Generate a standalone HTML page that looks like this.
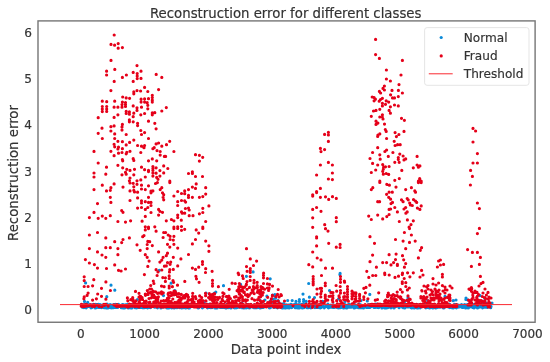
<!DOCTYPE html><html><head><meta charset="utf-8"><title>Reconstruction error for different classes</title><style>html,body{margin:0;padding:0;background:#fff}</style></head><body><svg width="550" height="362" viewBox="0 0 550 362" style="display:block"><rect width="550" height="362" fill="#fff"/><path d="M159.3 270.3h0M85.6 282.9h0M111 285.2h0M114.8 290.2h0M106.8 296.7h0M84.5 301.4h0M87.7 302.3h0M137.4 299.5h0M171.1 283.2h0M174.9 290.5h0M163.5 295.6h0M206.1 293.1h0M214.4 293.1h0M204.2 302.6h0M223.5 285.7h0M215.8 292.1h0M240.6 284.4h0M246.4 276.3h0M270.2 278.8h0M259.7 300.1h0M270.2 301h0M241.9 303h0M272.5 295h0M253.1 271.9h0M308.7 283.5h0M303 294.1h0M309.4 297.2h0M314.5 297.5h0M329.5 290.5h0M287.7 300.5h0M292.2 300.5h0M296 301.4h0M299.4 299.5h0M299.4 301.4h0M303.6 299.5h0M303.6 301.4h0M306.2 301.4h0M275.6 298.2h0M278.8 302.3h0M283.9 303.5h0M322.7 301.4h0M338.6 298.8h0M339.9 274.6h0M340.1 273.4h0M369.8 294.4h0M367.3 301h0M360.9 300.7h0M408 297.9h0M404.8 301.4h0M345 301.4h0M445 296.4h0M456 300h0M466 298h0M468 300h0M480 295.6h0M485 299h0M486 303h0M492 303h0M427.7 300.7h0M453.2 300.7h0M465.9 299.5h0M214.3 304.8h0M348.4 304.5h0M301.2 305.6h0M105.3 306.1h0M96.9 305.8h0M110.1 304.5h0M255.6 307.3h0M132.3 305h0M338.7 307.8h0M318.1 305.7h0M481.8 304.4h0M433.5 305.3h0M140.6 304.6h0M208 307.3h0M155.6 306.4h0M343.5 305.6h0M306.1 304.4h0M105.9 305h0M360.5 305.8h0M210.3 306.4h0M267.3 305.3h0M407.2 306.9h0M181.6 306.4h0M296.8 307.5h0M380.6 305.3h0M483.4 304.6h0M252.9 307.1h0M143.8 306.1h0M97.6 306.7h0M395 306.4h0M440.4 305.4h0M366.6 306.5h0M319.3 305.9h0M425.9 307.8h0M275.9 306.7h0M106.4 306.9h0M346.8 308h0M418.5 305.3h0M239.7 306.7h0M90.8 306h0M150.4 304.6h0M105.7 307.1h0M134.5 305.1h0M241.8 307.5h0M114.5 305.9h0M306.8 307.6h0M417.4 307.5h0M195.7 305.8h0M228.6 307.6h0M474.2 304.8h0M153.7 305.1h0M177.2 306h0M323 305.2h0M83.2 305.8h0M232.9 306.4h0M472.3 306.8h0M292.9 306.5h0M358.7 304.4h0M450.3 307.2h0M440.1 307.2h0M242.4 305.7h0M124 306.6h0M107 304.5h0M167.1 304.8h0M220.9 304.4h0M81.6 304.8h0M123.1 305.6h0M92 307.5h0M333.3 304.8h0M184.9 305.5h0M230.8 304.7h0M429.6 308h0M272.6 306h0M116.7 304.6h0M222 305.2h0M421.3 304.8h0M91 307.8h0M298.1 304.8h0M304.2 304.3h0M298 307.9h0M435.5 306.8h0M188.6 305.6h0M150 307.1h0M299.9 307.2h0M216.7 305h0M414.2 307.9h0M431.1 307.3h0M417 307h0M174.5 306.2h0M227.3 304.3h0M93 305.3h0M187.8 306.8h0M473.7 305.9h0M465.7 308h0M473.1 305.6h0M171.9 305.1h0M162.1 305h0M337.4 307.6h0M426.1 306h0M349.2 307.2h0M116.3 306.7h0M454.5 307.2h0M389.1 306h0M154.7 307.2h0M217.8 307.2h0M479.9 305.7h0M246.1 307.8h0M378.7 304.8h0M133.6 304.8h0M452.5 307.3h0M141.4 307.3h0M483.4 306.7h0M225.2 306.3h0M135.2 304.3h0M479.6 306.7h0M297.4 307.7h0M259.4 307.5h0M420.2 305h0M184.8 305.3h0M180.1 306.4h0M187.8 305.8h0M135.2 307.7h0M226.6 305.9h0M320.7 307.6h0M254 307.7h0M287.2 306.2h0M296.1 304.3h0M262 304.9h0M83.1 307.2h0M152.2 306h0M378.8 306.3h0M215.2 306.2h0M309.2 307.2h0M125 306.3h0M183.4 305.3h0M398.1 306.1h0M311.8 307.1h0M455.6 305.9h0M332.6 306.1h0M291.5 306.8h0M267 306.2h0M277.5 307.8h0M368.2 307.5h0M467.8 305.2h0M310.9 307.8h0M425.9 304.7h0M131.4 305.9h0M111.2 305.1h0M111.5 306.7h0M402.9 307.6h0M144.8 306.9h0M352.2 304.7h0M443.5 307.9h0M171.5 307.8h0M244.8 306.1h0M487.3 307.4h0M147.7 305.8h0M292.9 305.5h0M161.8 305.4h0M377.6 304.3h0M308.7 305.9h0M88.9 305.5h0M337.3 306.1h0M107.9 307.9h0M404.7 307.9h0M124.5 305.2h0M97.7 307.2h0M192.4 304.7h0M254.6 307.7h0M417.3 305.2h0M142.7 307.7h0M315.4 306.9h0M118.2 304.4h0M363.7 305.8h0M111.2 307.8h0M341.6 307.2h0M115.8 307.5h0M108.8 307.5h0M267.5 305.5h0M308.3 307.7h0M191.3 304.7h0M297.5 305.1h0M126.4 304.8h0M102.2 305h0M209.4 305.4h0M392.9 305.3h0M286.5 304.9h0M223.8 304.3h0M184.2 304.3h0M382.1 306.3h0M159.2 306h0M464.7 304.6h0M417.3 305.8h0M284.5 307.4h0M242.7 306.1h0M363.5 307.9h0M222 307.4h0M371.3 306.6h0M247.4 305.5h0M103.8 304.7h0M110.5 307h0M186.3 304.8h0M116.1 307.4h0M438.4 306.7h0M197.1 305.1h0M201.7 305.9h0M146.1 305.9h0M189.4 307.9h0M480.3 306.3h0M181.7 307.9h0M208.4 305.6h0M81.9 305.7h0M276.1 306.1h0M163.9 306.1h0M83.5 305.2h0M118.3 305.7h0M98.6 304.3h0M206.2 305.1h0M321.6 306.2h0M389.2 306.7h0M375.1 307.5h0M241.2 305.4h0M485.2 304.8h0M378.4 306.6h0M99.5 307.4h0M447.2 306.6h0M382.4 307.3h0M138.6 306.2h0M288.3 307.4h0M411.4 307.3h0M321 307.6h0M361.5 306.8h0M175.8 304.3h0M136.1 305.6h0M124.5 307.4h0M310.5 306.6h0M338.3 306.8h0M282.1 304.2h0M408.6 307h0M287.7 306.2h0M351.8 304.5h0M383.6 305.2h0M112 305.2h0M380.5 305h0M384.8 307.9h0M284 305.7h0M277.9 306.8h0M396 306.5h0M345 304.5h0M141.9 305.2h0M386.2 305.4h0M314.3 304.2h0M106.4 305.2h0M357 306.8h0M358.5 305.3h0M293.3 306h0M272.7 304.7h0M447.9 305h0M482.5 307.8h0M88.7 305.9h0M417.7 307.9h0M265.8 305.2h0M167.5 307.8h0M167.9 306.4h0M139.6 306.2h0M472.1 304.7h0M417.8 306.1h0M445.1 306.9h0M176.4 307.6h0M280.8 304.3h0M83 306.1h0M266.3 305.3h0M139.2 305.5h0M211.1 307.4h0M82.2 307.1h0M425.5 304.7h0M461.3 306.9h0M451.1 305.3h0M234.1 305.7h0M491 306.4h0M229.4 305.8h0M194.3 304.4h0M123.2 307.4h0M198.6 307.8h0M183.7 305.2h0M291 304.9h0M234.6 307.8h0M444 307.3h0M340.2 307.7h0M467.2 306.3h0M376.5 304.4h0M381.8 305.9h0M390.1 306.6h0M198.8 304.4h0M461.5 304.7h0M275.1 305.5h0M203.6 307h0M481.8 305.2h0M350.5 305.3h0M310 305.7h0M150.1 304.8h0M166.7 307.6h0M285.3 305h0M453.1 308h0M266 304.7h0M160.4 304.5h0M221.7 304.5h0M179.5 305.2h0M315 307.6h0M388.9 305.8h0M251.2 306.2h0M236 305.5h0M106.9 305.3h0M478.3 304.7h0M287.9 306.6h0M435.3 305h0M192.6 305.1h0M245.4 305.9h0M472.6 307.4h0M439.4 304.3h0M94.7 306.9h0M448.7 306h0M322.2 304.2h0M242 307.7h0M420 307.5h0M480.1 305.1h0M126.2 304.8h0M295.7 306.8h0M467.5 306.9h0M346.9 307.1h0M269 306.3h0M97.7 307.2h0M176.9 307.7h0M346.2 305.4h0M134 305.2h0M342.4 306.9h0M127.5 304.5h0M296.5 306.4h0M240.6 305h0M327.9 304.2h0M205.1 306h0M474.7 306.6h0M443.8 306h0M177.8 305.1h0M475.4 306.9h0M207.5 304.3h0M285.8 306.8h0M253.7 305.2h0M355.1 307.7h0M174.5 304.3h0M220.1 305.8h0M361.4 305h0M408.3 307h0M288.5 305h0M479.1 305.4h0M417.7 305.1h0M172.3 307.1h0M202.4 307.8h0M284.8 304.9h0M173.1 305.8h0M354.3 307.8h0M141.5 305.7h0M168.8 307.9h0M139.7 304.4h0M106.2 305.7h0M449.7 307.6h0M381.9 308h0M463.5 305.5h0M157.6 307.8h0M387.5 304.3h0M353.9 305.6h0M234.8 305.5h0M150.9 304.2h0M196.2 305.5h0M473.3 304.7h0M476.9 305h0M227.7 307.3h0M418.5 305.8h0M101.7 306h0M234.3 307.7h0M160.6 305.6h0M449.3 304.3h0M249.9 307.3h0M395.8 304.4h0M95.8 304.4h0M458.7 305.2h0M387.9 307.6h0M220.5 305.2h0M474.2 306.5h0M189 306.9h0M211.3 305.2h0M83 307.1h0M457.2 306.6h0M468.2 304.3h0M177.4 306h0M473.8 307.8h0M240 305.2h0M257.8 306.1h0M462 304.9h0M410.6 307h0M418.8 307.1h0M330.5 305.4h0M212.5 305.6h0M402.2 304.5h0M162.4 307.1h0M182.9 304.4h0M95.4 306.3h0M215.1 307.9h0M443.7 308h0M190.1 304.5h0M121 306.1h0M372.5 305.9h0M177.5 305.8h0M335.8 306.8h0M388.2 307.4h0M353.9 304.7h0M426.3 305.3h0M313.9 305.6h0M384.1 305h0M182.9 305.1h0M144.4 307.6h0M318.6 305.4h0M243.9 308h0M289.5 305.1h0M413 306.7h0M487.8 304.6h0M276.2 307.3h0M426.1 307.7h0M98 305.3h0M130.4 304.9h0M480.4 306.4h0M462.9 305.6h0M436.6 305.9h0M188.1 307.2h0M469.2 304.6h0M325.9 306.6h0M170.7 305.6h0M139.5 305h0M186 306.5h0M348.7 305h0M86.2 305.4h0M359.6 304.9h0M209.5 305h0M407.6 306.3h0M107.4 304.6h0M243.6 306.3h0M343.6 304.5h0M148.6 306.8h0M249.5 305.3h0M207.6 307.8h0M209.6 306.4h0M227.9 305.8h0M435.8 308h0M230.7 304.9h0M380 305h0M83.9 307.6h0M255.2 307.3h0M248 307.6h0M270.5 304.8h0M87.6 306.3h0M344.2 307.7h0M118 306.6h0M233.5 306.1h0M141.3 305.3h0M295.2 307.7h0M126.1 306.1h0M411.5 307.9h0M162.4 304.7h0M468.2 307.9h0M279.4 304.4h0M461.2 305.7h0M452.2 306.6h0M419.6 304.8h0M403.7 305h0M247.3 307.4h0M421.5 304.9h0M170.9 305.7h0M293.8 305.7h0M132 305.1h0M378.7 307.6h0M98.4 306.3h0M392.1 304.3h0M425.2 304.6h0M327.3 306.3h0M338.6 305.4h0M253.7 306.4h0M256.1 306.7h0M264.7 305.9h0M91.1 306.6h0M282.2 305.1h0M394.6 307.2h0M269.4 304.9h0M275.5 304.6h0M134.2 305.8h0M119.1 305.9h0M290.7 304.4h0M342.4 304.5h0M382.2 307.2h0M291.2 304.4h0M288.1 305.6h0M471.4 304.7h0M432.9 308h0M381.7 307.3h0M160.9 307.9h0M283.2 307.8h0M457.1 304.8h0M404.7 307.7h0M108.4 305.5h0M391.5 304.8h0M449.1 305.2h0M415.9 304.7h0M287.4 307.7h0M166.9 305.2h0M289 305.4h0M96.6 304.9h0M147.6 307.8h0M360.2 307.6h0M150.7 307.2h0M128.7 306.2h0M342.4 305.6h0M439.4 306.3h0M319.3 307.6h0M124.4 308h0M339.7 305.7h0M408.5 305.2h0M487.6 306.4h0M229.2 307.1h0M262.8 304.9h0M386.4 304.4h0M417.6 305.2h0M343.6 307.9h0M321.7 306.7h0M209.7 304.2h0M95.4 304.8h0M334.1 305.8h0M291.7 307.6h0M135.6 305.1h0M349.3 304.3h0M82.6 305.5h0M125.1 305.6h0M173.4 306.4h0M323 305h0M337.3 306h0M136.7 307.8h0M181.4 304.8h0M120.8 306.6h0M438.7 307.2h0M246.3 305.2h0M86.2 306.7h0M312.1 305.5h0M346.2 305.9h0M465.7 307h0M183.4 307.6h0M99.5 306.2h0M248 305.1h0M105.4 307.2h0M86.6 306.3h0M467.3 304.7h0M163.3 306.5h0M289.3 306.6h0M415 304.9h0M208.3 305.3h0M101.4 307.6h0M402.5 306.9h0M84.1 307.4h0M387 306h0M385.6 305.9h0M174.1 304.6h0M176.7 304.3h0M219.1 307h0M366.5 307.4h0M373.3 305.2h0M308.6 305.9h0M404.8 306.2h0M190.3 306.6h0M477.2 305h0M442.3 304.3h0M188.3 305.1h0M386.5 307.8h0M387.4 305.4h0M442.4 305.4h0M179.6 307.6h0M340.1 306.8h0M354.2 307.9h0M274 307.4h0M367.5 307.5h0M260.8 307h0M315.3 305.4h0M168.4 306.6h0M113.4 307.7h0M140.8 304.3h0M125.2 307.7h0M222.9 304.7h0M93.3 304.4h0M365.5 306.6h0M367.3 307h0M108.5 306.4h0M230.5 307.3h0M417.5 307.6h0M108.5 307.5h0M456.4 307.8h0M125.4 305h0M127.4 304.3h0M429.1 307.3h0M341.5 307.3h0M340.4 305.3h0M122.4 304.6h0M392 305h0M212.3 305.8h0M90.1 305.2h0M197.4 306.9h0M232.4 305.4h0M476.7 306.1h0M430.6 306.5h0M94.2 305.8h0M260.4 307.1h0M223.7 306.9h0M302 305h0M435 304.5h0M417.6 304.8h0M82 305h0M394 307.9h0M83.3 306.1h0M283 307.2h0M157.2 306.1h0M223.8 307.4h0M188.3 307.8h0M197.8 305h0M368.3 306.1h0M126.6 306.6h0M114.7 307.2h0M367.3 307.2h0M339 305.6h0M246 305.7h0M446.6 304.5h0M445.8 304.3h0M166 305.2h0M451 306.1h0M237 307.6h0M177.3 306h0M299.4 307.1h0M390.2 306.7h0M224.4 305.4h0M145.2 307.4h0M353 307h0M151 305.9h0M398.6 306.4h0M133.2 306h0M444.4 305.1h0M160 305.3h0M369.8 307.4h0M144.9 304.8h0M183 305.4h0M295.6 304.8h0M216 304.9h0M481.3 307h0M123.2 307.9h0M123.2 305.7h0M484.9 307.2h0M382.1 305.9h0M161.9 306.6h0M125.3 305h0M240.7 304.3h0M245.1 307.2h0M365.8 306.1h0M340.8 306h0M139.6 306.5h0M247.4 307h0M453.8 305.8h0M316.8 307h0M254.2 305.1h0M377.6 307.5h0M398.9 306.9h0M431 306.8h0M344.5 305.9h0M209.8 306.6h0M121.6 305.8h0M402.3 306.9h0M339.6 305.2h0M255.2 305.9h0M336.3 305.8h0M358.4 307.7h0M156.6 306.7h0M400.6 305.7h0M282.3 307.9h0M97.1 306.3h0M147.4 307.2h0M467.1 306.2h0M122.9 306.4h0M303.3 306.9h0M291.5 306.6h0M421.4 306.2h0M249.7 307.8h0M167.6 306.8h0M242.4 307.1h0M131.7 307.9h0M227.2 304.4h0M194 305.7h0M87 305.8h0M253.9 306.9h0M225.9 305.2h0M173.5 307h0M466.9 306.2h0M171.3 307.2h0M242.2 305h0M134.5 307.2h0M413.4 306.6h0M273.9 306.3h0M174.2 307.9h0M226.3 306.6h0M417.2 307.3h0M273.4 305.3h0M306.3 304.7h0M423.3 305.5h0M430.3 305.2h0M235.7 305.2h0M256.2 304.9h0M82.6 306.9h0M196.8 305.1h0M205.2 306h0M257.2 306.6h0M351.8 305.6h0M462.3 307.4h0M104.9 307.3h0M452.9 307.2h0M139.1 307.4h0M341.1 304.3h0M86.2 307.8h0M350.4 305.2h0M123.1 304.7h0M177.3 307.1h0M223.5 304.8h0M452.2 307.2h0M150.3 307.6h0M330.9 307.2h0M355.6 307.6h0M404.6 307.4h0M162.4 306.8h0M299.1 307h0M261.3 307.6h0M309.1 305.2h0M177.5 304.7h0M283.7 304.4h0M273 304.7h0M283 306.1h0M302.7 307.5h0M84.2 307.4h0M273.4 306.3h0M354.3 307.4h0M235.2 305.8h0M475.4 304.5h0M342.7 306.6h0M93.2 306.5h0M361.4 307.7h0M217 307.9h0M290.9 306h0M449.5 304.3h0M376 306.6h0M220.3 307.5h0M231.6 306h0M297 307.1h0M167.9 305.9h0M254.7 306.3h0M420.5 305.3h0M420.9 305.7h0M288 305.2h0M289.1 307.9h0M349.9 307.2h0M217.2 305.4h0M204.2 306.4h0M341.8 307.2h0M97.9 306.9h0M444.6 306.3h0M101.9 305.3h0M84 304.9h0M459.3 306.5h0M351.3 307.2h0M454.5 306.5h0M334.3 306.6h0M367 306.5h0M360.7 305h0M355 305.9h0M394.2 304.6h0M155.8 304.3h0M399.1 307.7h0M350.3 305.6h0M418.8 307.2h0M312 305.2h0M205.3 305.8h0M212.1 305.8h0M344.6 307.7h0M103.9 306.4h0M97.6 304.7h0M413.7 306.4h0M458.1 305.9h0M87.3 305.7h0M324.2 307.8h0M483.6 306h0M250.6 304.6h0M345.7 305h0M143.7 304.3h0M83.5 306.8h0M131.4 307.9h0M117.6 307.5h0M134.4 304.3h0M376.4 305.1h0M382.3 304.9h0M102.1 307.1h0M374.1 307.5h0M380.7 304.5h0M339.2 306.9h0M270.3 307.7h0M185.7 307.9h0M375.6 304.2h0M87.5 306.7h0M416.6 304.5h0M209 307h0M149.6 307.5h0M280.9 304.4h0M232.2 306.4h0M261.4 306.8h0M140.9 307.2h0M230.4 306.7h0M339.7 305.8h0M239.7 307.2h0M468.9 307.2h0M313.9 305.3h0M106.4 307.9h0M369.8 307.3h0M217.6 306.5h0M482.3 307.4h0M328 305.4h0M257.2 307.6h0M235.9 306.8h0M328.2 307.6h0M412.6 305.3h0M82.2 305.2h0M254.7 306.4h0M416.1 307.6h0M98.8 307.4h0M414.3 307.5h0M316 305.2h0M430.5 307.3h0M362.2 307.7h0M223.7 304.5h0M308.5 307.2h0M163.7 307.1h0M463.5 305.1h0M330.3 306.8h0M272.3 305h0M185.9 307.1h0M406.1 305.9h0M117.5 307.3h0M398.1 305.1h0M319.1 307.6h0M444.4 306.2h0M276.9 306.4h0M159.1 304.9h0M155.6 306.9h0M230.3 306.3h0M246.5 306.2h0M142.6 304.4h0M490.3 305.6h0M125 306.6h0M404.3 304.8h0M326.4 305.5h0M294.5 304.3h0M95.3 308h0M436.6 306h0M314 305.2h0M401 305.8h0M469.6 307.1h0M417.2 307.9h0M185.6 304.3h0M163.9 304.9h0M115.8 304.4h0M310 307.5h0M269.4 307.8h0M454.6 304.4h0M326.7 305.7h0M130.7 307.8h0M186.9 306.3h0M344.2 307.8h0M356.1 305.7h0M265.3 304.8h0M477.5 308h0M172.4 304.3h0M186.4 305.5h0M451.6 307.6h0M424.8 304.4h0M403.9 306.9h0M346.6 307.9h0M104.4 304.8h0M391 307.8h0M359 305.3h0M324 307.1h0M124.7 305.4h0M186.9 304.7h0M278.8 304.8h0M179.3 304.7h0M359.3 304.2h0M375.6 304.9h0M96.3 307.7h0M171.9 307.7h0M436.9 307.6h0M138.8 305.9h0M121.3 307.7h0M426.8 306.6h0M267 305.5h0M419 306h0M339.1 304.7h0M172.4 304.4h0M374.1 306.3h0M140.8 307.5h0M190.7 305.8h0M145.3 305.2h0M425.7 305.5h0M150.3 306.1h0M211.9 307.6h0M128.3 307.9h0M104.8 307.6h0M355.5 305h0M277.3 305.3h0M187.2 305h0M230.9 308h0M490.7 307.7h0M121.5 305.3h0M448.9 304.4h0M379.4 305.3h0M482.7 304.3h0M412.4 305.5h0M139 304.2h0M422.7 306.2h0M157.7 305.9h0M455.4 305h0M315.7 304.7h0M155.4 307.1h0M373.3 304.9h0M114 304.5h0M331 306.1h0M193.8 305h0M332.6 306.9h0M414.2 306.4h0M164.4 304.4h0M381.9 305.8h0M377.4 304.4h0M413.9 305.5h0M426.7 307.5h0M283.6 304.3h0M454.7 306h0M439 305.2h0M157.8 307.4h0M232 304.8h0M233.7 306.5h0M83.4 306.2h0M264.3 306.2h0M131 306.9h0M416.3 307.5h0M213.1 306.9h0M237.9 307.1h0M106.6 307.5h0M472.7 306.1h0M292 306.2h0M301.8 304.3h0M478.1 305.1h0M156.3 304.6h0M184.2 307.3h0M93.8 304.6h0M368.1 304.9h0M88.8 306.5h0M317.9 306.2h0M369.6 304.6h0M438 306.9h0M100 304.7h0M283.9 306.1h0M196.1 304.7h0M247.8 304.7h0M324.1 307.5h0M141.9 306.4h0M387.6 304.8h0M420.2 307.8h0M240.9 305.8h0M425.8 306.2h0M243.7 307.8h0M400 305.5h0M180.1 305.5h0M260.1 307.9h0M411.3 307.7h0M415.7 307.4h0M103.5 306.2h0M474.2 307.8h0M183.7 305.8h0M340.9 305.6h0M299.1 304.5h0M259 306.1h0M90 304.7h0M479.1 307.2h0M465.6 306.6h0M413.3 307.6h0M444.2 304.3h0M344.5 305.2h0M359.7 305.2h0M303.8 307.7h0M336.2 305.2h0M294.8 305.8h0M471.4 305.3h0M206.7 306.7h0M130.9 306.5h0M473.5 306.2h0M191.5 306h0M300.4 304.8h0M132.3 304.7h0M201.9 305.7h0M199.7 305.1h0M117.5 306.3h0M425.8 306.5h0M315.3 306.7h0M164 306.9h0M270.5 306.3h0M332.7 306h0M208.8 305.1h0M172.3 306.1h0M238.6 306.4h0M86.4 305.5h0M434.9 305.1h0M309.7 306.1h0M198.3 308h0M202.7 307.1h0M146.5 304.5h0M438.7 305.9h0M106.9 305.7h0M261.9 307h0M126.3 305.1h0M474.8 307h0M144.9 305.5h0M226 306.8h0M334.2 307.4h0M418.2 306.2h0M384.4 307h0M393 306h0M403.3 306.9h0M456.5 304.7h0M438.5 304.2h0M395.4 306.4h0M285.6 307.9h0M316 305.8h0M402.8 307.5h0M330.5 305.6h0M266.9 305.9h0M378 305.3h0M241.7 306.3h0M239.1 305.4h0M404.2 307.4h0M286.3 305.9h0M157 305.4h0M140.9 306.4h0M319.9 304.5h0M458.8 305.4h0M427.3 307.4h0M474.6 305h0M256.3 307.7h0M85.9 304.4h0M313.1 306.1h0M458.8 307.1h0M302.3 308h0M293.7 306.2h0M362.4 305.7h0M228.2 306.5h0M225.5 307.8h0M358.9 306.2h0M122.1 305.6h0M245.9 306.3h0M316.9 307.5h0M476.9 306h0M262 306.6h0M489.9 305.5h0M298.9 307.3h0M151.5 305.4h0M482.7 307.3h0M291.7 304.6h0M448.2 306.8h0M417.9 308h0M445.6 305.8h0M145.6 305.3h0M291.3 306.1h0M158.6 304.9h0M339.8 306.5h0M226.3 308h0M342.5 304.4h0M250.2 307.2h0M207.3 306.8h0M83.1 305.4h0M426.8 306.4h0M355.4 304.9h0M285.6 306.3h0M190.6 306.7h0M299.4 308h0M317 305.8h0M131.3 304.8h0M392.9 304.6h0M122.5 304.8h0M295.7 307.3h0M332.8 307.3h0M107 304.2h0M397.4 305.4h0M374.8 305.5h0M151 305.2h0M122.3 307.6h0M320.2 305.5h0M265.9 305.7h0M103.9 307.6h0M320.4 307.8h0M261.8 306.6h0M183.7 304.4h0M463.1 307.4h0M210.6 307.6h0M416 305.4h0M328.5 307.8h0M284.7 307.8h0M181.1 305.7h0M376.1 305h0M208.3 307.5h0M280.1 307.2h0M181.3 304.9h0M228.4 304.9h0M479.8 305.3h0M311.7 304.6h0M300.3 305.7h0M246.8 304.4h0M132 307.3h0M225.5 305.1h0M159.9 305.3h0M178.7 304.3h0M353.9 305.5h0M145.4 306.9h0M119.5 305.2h0M423.9 304.7h0M263.3 307.4h0M411.5 304.8h0M226.2 306.9h0M236 307.8h0M166.8 307.8h0M288.5 305.1h0M267.1 304.7h0M371.2 305.2h0M450.3 306.4h0M232.4 305.1h0M330.9 305h0M279.6 304h0M275.3 296.5h0M266.9 296.2h0M269.6 301.8h0M264.9 300h0M274.9 294.7h0M271 302.3h0M273.2 299.3h0M278.1 300.7h0" stroke="#0a8ad8" stroke-width="3.2" stroke-linecap="round" fill="none"/><path d="M114.2 35h0M111 44.4h0M114.6 45.2h0M118.2 43.6h0M118.2 48.2h0M122.4 47.6h0M111 60.4h0M137 65.6h0M114.8 69.4h0M106.6 71.2h0M106.6 75h0M141 71.2h0M133.2 72.4h0M137.2 73.6h0M137.2 76h0M137.2 78.6h0M141 78.4h0M126.4 75h0M122.4 77.4h0M156.2 74.4h0M161.8 77.4h0M114.2 81.4h0M133.2 81.4h0M144.6 87.4h0M158.6 89.6h0M110.9 90.6h0M133.8 91.9h0M133.8 93.8h0M137 90.6h0M140.6 91h0M147.8 91.5h0M122.7 97h0M126.2 97.9h0M129.6 98.3h0M152.3 95.3h0M152.3 97.6h0M102.3 101.2h0M106.7 101.7h0M114.7 101.2h0M122.4 102.1h0M125.5 102.5h0M141.1 99.2h0M144.6 98.9h0M148.5 98.7h0M152.3 100.2h0M152.3 102.1h0M141.1 102.1h0M144.6 102.1h0M147.2 102.7h0M102.3 106.5h0M106.7 106.5h0M114.1 107.2h0M117.9 107.2h0M122 104.6h0M125.5 104.6h0M122 107.2h0M125.5 106.5h0M133.2 105.9h0M137 107.8h0M141.5 107.2h0M147.8 105.3h0M147.8 108.8h0M102.3 109.1h0M106.7 109.1h0M102.3 111.6h0M106.7 111.4h0M137 110.4h0M161.8 111h0M126.2 111.4h0M129.4 111.9h0M126.2 113.5h0M129.4 114.2h0M133.8 113.2h0M140.8 114.8h0M144.6 113.5h0M152.3 112.9h0M154.8 112.7h0M152.3 114.8h0M117.9 114.8h0M98.2 117.7h0M114.1 117.4h0M133.2 116.7h0M129.4 119.9h0M129.4 121.8h0M133.2 121.8h0M148.5 121.2h0M137.6 123.3h0M137.6 125.6h0M154.8 123.3h0M122.4 124.4h0M122 126.9h0M114.1 125.9h0M110.9 126.7h0M102 128.2h0M156.1 128.8h0M122 130.1h0M110.9 131h0M140.8 130.5h0M98.2 133.3h0M114.7 133.9h0M126.2 134.5h0M144.6 132.6h0M141.5 134.5h0M166.3 107.6h0M94 151.4h0M102.3 138.5h0M114.7 138.5h0M148.5 138.5h0M133.8 140.1h0M117.9 141.3h0M122.4 141.7h0M129.6 142.4h0M158.6 143h0M156.1 143.9h0M114.1 144.3h0M126.2 144.9h0M137.6 145.5h0M141.5 146.2h0M144.6 145.5h0M161.8 146.2h0M114.7 146.8h0M118.5 147.2h0M117.9 149h0M122.4 148.7h0M144 147.7h0M154.2 147.7h0M152.9 148.7h0M110.9 151.3h0M130 151.3h0M118.5 153.2h0M122 152.5h0M126.2 153.8h0M126.8 152.3h0M140.8 152.5h0M157 150.6h0M160.2 151.5h0M114.1 155.7h0M160.2 155.1h0M164.4 156.4h0M122.4 159.5h0M122.7 160.8h0M133.2 158.7h0M133.8 160.4h0M152.3 158.9h0M156.7 160.8h0M148.5 160.8h0M98.2 163h0M117.9 165.3h0M106.5 167.2h0M122.7 167.8h0M141.5 167.2h0M152.9 166.5h0M152.9 168.5h0M156.1 167.8h0M163.7 165.9h0M126.8 169.3h0M130 170.4h0M134.5 169.3h0M144.6 169.7h0M148.5 170.4h0M148.5 171.6h0M152.9 170.4h0M159.9 170.6h0M125.5 172.3h0M126.2 174.2h0M122 174.8h0M133.8 174.8h0M105.8 174.2h0M152.9 172.9h0M156.1 173.2h0M163.7 172.9h0M130 178h0M145.3 177h0M152.9 176.1h0M159.9 176.1h0M156.7 177.4h0M158 179.3h0M129.4 180.8h0M137 180.8h0M140.8 179.9h0M169.7 141.3h0M166.5 144.7h0M173.9 151.5h0M165.6 156.4h0M195.5 154.7h0M199.4 155.3h0M202.7 157.3h0M199.4 161.1h0M167.8 168.5h0M192.4 171.9h0M192.4 173.5h0M188.5 173.5h0M195.5 176.5h0M202.5 176.5h0M169.8 181.2h0M102.3 185.2h0M114.1 183.9h0M130 183h0M133.2 183.3h0M137 184.3h0M141.5 185.2h0M148.5 185.8h0M155.5 183.5h0M157.4 182.6h0M123 187.1h0M110.9 187.7h0M110.3 190.3h0M106.5 190.9h0M133.8 186.8h0M141.5 189h0M145.3 189.6h0M161.8 187.7h0M160.2 189.6h0M130 190.9h0M133.8 190.3h0M134.5 191.9h0M137.6 192.2h0M151 191.2h0M152.9 190.9h0M151 192.8h0M162.5 192.8h0M163.7 194.7h0M110.3 197.3h0M137.6 197.9h0M148.5 197.3h0M163.1 197.3h0M163.7 199.8h0M130 200.5h0M110.9 202.4h0M97.5 203.6h0M141.5 200.8h0M141.5 203h0M145.3 201.7h0M148.5 202.4h0M151 202.4h0M151 205.5h0M137.6 208.1h0M141.5 207.5h0M145.3 209.4h0M147.8 207.5h0M158.6 209.4h0M159.9 211.3h0M162.5 212.3h0M121.7 210.6h0M123 212.3h0M151 212.5h0M110.3 215.7h0M102.3 216.1h0M98.2 218.3h0M105.8 218.3h0M145.3 216.4h0M158.6 215.1h0M117.9 221.5h0M125.5 222.1h0M130.6 220.8h0M142.1 221.2h0M145.3 226.8h0M148.5 227.2h0M154.8 226.8h0M169.8 182.6h0M196.2 183.9h0M192.4 187.1h0M195.5 188.4h0M205.7 187.7h0M188.5 189.6h0M184.7 190.9h0M177.7 191.5h0M181.5 193.5h0M184.7 193.7h0M205.7 194.1h0M173.9 196h0M188.5 195.4h0M188.5 197.5h0M192.4 197.3h0M199.4 197.3h0M202.8 196.6h0M181.5 200.5h0M184.7 200.8h0M185.6 202.1h0M177.7 201.7h0M177.7 205.5h0M208.9 205.9h0M185.4 208.5h0M188.5 208.1h0M189.2 210h0M202.8 208.3h0M181.5 211.9h0M182.2 213.2h0M184.7 213.2h0M199.4 213.8h0M202.8 212.5h0M177.7 215.1h0M189.2 215.7h0M193 215.7h0M177.7 217.6h0M171.4 219.5h0M173.9 220.8h0M166.3 220.8h0M181.3 220.2h0M205.7 221.5h0M173.9 227.2h0M177.7 226.8h0M181.5 226.5h0M202.8 227.2h0M97.5 232.5h0M145.3 229.9h0M148.5 228.6h0M156.1 231.2h0M163.7 232.5h0M105.8 237.9h0M129.4 237.9h0M142.7 236.7h0M144 235.6h0M163.1 237.5h0M123 239.5h0M114.7 241.7h0M121.7 242.6h0M147.8 241.4h0M149.7 241.7h0M147.2 244.5h0M137 244.8h0M152.3 245.6h0M105.8 247.7h0M110.3 247.7h0M117.9 248.6h0M147.2 248.6h0M140.2 250.3h0M97.5 251.9h0M158.6 251.9h0M102 255h0M117.9 254.7h0M105.8 257.3h0M145.3 254.7h0M147.2 257.3h0M163.1 257.3h0M149.1 261.1h0M159.9 262.1h0M161.8 260.1h0M114.7 264.9h0M97.5 268.1h0M106.5 268.5h0M125.5 269h0M118.5 270.3h0M121.1 271h0M147.8 266.4h0M164.4 266.2h0M156.1 269.7h0M161.8 270h0M158 271.9h0M173.9 228.6h0M177.7 228.4h0M181.5 230.3h0M184.7 229.3h0M196.2 229.9h0M202.8 228.4h0M198.7 233.1h0M165.6 232.5h0M168.2 235h0M170.1 236.3h0M173.9 236.3h0M170.1 239.5h0M173.3 240.1h0M195.5 239.5h0M205.7 241.1h0M167.5 244.3h0M173.9 244.3h0M192.4 243.9h0M208.9 245.8h0M169.8 247.1h0M177.7 248.1h0M208.9 251.3h0M167.5 253.2h0M166.3 255.7h0M188.5 254.5h0M173.3 257.3h0M180.9 258.9h0M167.5 262.6h0M170.7 262.1h0M170.1 264.3h0M166.3 265.9h0M177.7 265.9h0M202.5 261.7h0M202.5 264.3h0M198.7 267.2h0M192.4 268.1h0M195.5 269.4h0M205.7 268.7h0M173.3 269.4h0M169.8 269.7h0M169.5 271.9h0M212.1 271.3h0M205.5 272.5h0M84.2 276.8h0M84.2 280.6h0M93.8 279.7h0M105.9 281.9h0M84.2 286.5h0M88.1 286.5h0M92.6 285.8h0M101.5 288.3h0M110.4 290.5h0M135.5 291.4h0M139 293.3h0M88.1 293.1h0M87.1 295.4h0M84.2 296.9h0M83.9 298.8h0M97.7 294h0M101.5 296.3h0M105.9 299.2h0M96.4 298.8h0M92.6 300.1h0M139 297.2h0M132.9 301h0M139.9 300.1h0M142.5 299.5h0M144.4 274.6h0M157.1 275.5h0M162.8 277.6h0M165.4 277.8h0M169.2 275.9h0M169.2 278.5h0M195.9 276.3h0M196.5 278.8h0M212.5 280.4h0M153.3 281h0M165.4 281.4h0M173 280.6h0M173.6 282.3h0M184.8 281.4h0M199.1 282.3h0M212.5 283.5h0M212.5 286.1h0M153.9 283.5h0M150.7 285.5h0M161.5 286.1h0M164.1 286.7h0M169.2 286.1h0M169.2 288h0M172.4 286.7h0M177.5 285.2h0M149.8 289h0M151.4 289h0M161.5 291.8h0M158.4 293.1h0M150.7 292.5h0M147.5 294.4h0M168.5 293.1h0M172.4 293.1h0M175.5 292.5h0M175.5 294.4h0M181.3 294.4h0M192.7 293.3h0M205.5 293.3h0M209.3 293.7h0M212.5 294.4h0M199.7 295.9h0M208.6 297.5h0M192.7 298.8h0M188.3 300.1h0M199.7 300.1h0M218.4 286.7h0M232.1 283.2h0M235.3 283.5h0M229.2 289.3h0M222.8 292.8h0M238.7 274.6h0M242.5 275.9h0M243.2 278.5h0M250.2 276.5h0M250.2 280.4h0M247 281.6h0M246.4 284.2h0M254 280.4h0M254 282.9h0M257.2 282.3h0M257.2 285.5h0M263.5 275.3h0M263.5 277.8h0M267.4 278.5h0M263.5 283.5h0M267.4 283.9h0M272.5 286.1h0M239.4 286.7h0M243.2 288h0M238.7 289.9h0M242.5 290.5h0M249.5 287.4h0M247 289.3h0M253.4 286.7h0M257.2 288h0M261 286.7h0M261 289.3h0M267.4 288h0M268.6 290.5h0M246.5 248.7h0M250.3 258.9h0M256.6 261.1h0M253.5 265.5h0M246.5 266.6h0M250.3 268.5h0M250.3 270.6h0M247.1 271.3h0M238.2 273.2h0M263.6 273.2h0M250.3 272.5h0M278.2 289.5h0M281.4 295.4h0M278.2 301h0M284.5 301h0M275.6 301.4h0M277.5 305.2h0M277.5 307.3h0M280.7 307.3h0M275.6 306.5h0M313.2 276.5h0M313.2 279.1h0M313.2 281.4h0M313.2 283.2h0M313.2 284.8h0M321.5 275.5h0M325.3 283.2h0M325.3 285.7h0M340.5 276.5h0M340.5 279.3h0M340.5 282.3h0M344.4 281h0M336.1 285.5h0M340.2 286.5h0M317 289h0M320.2 288.3h0M321.5 288.3h0M321.5 291.2h0M317 294.1h0M320.8 293.7h0M325.3 295h0M332.9 292.5h0M336.7 291.2h0M340.5 290.5h0M340.5 293.1h0M344.4 293.1h0M320.8 296.9h0M325.3 298.2h0M329.1 296.3h0M332.9 295.6h0M332.9 298.2h0M313.2 299.5h0M317 301.4h0M320.8 301.4h0M325.3 301h0M327.8 300.1h0M332.3 300.1h0M336.7 300.7h0M340.5 300.7h0M343.7 296.9h0M343.7 299.5h0M309.4 301.4h0M309.4 303.9h0M306.2 304.3h0M302.4 305.2h0M312.5 304.3h0M312.5 307.3h0M317 304.5h0M317 306.8h0M320.8 304.5h0M332.9 306.5h0M337.4 303.9h0M340.5 303.9h0M343.7 304.5h0M343.7 306.5h0M324.6 134.4h0M328.4 132.4h0M328.4 135h0M328.4 141.4h0M320.4 148.4h0M324.6 149.6h0M321 151.6h0M328.4 162.4h0M320.4 165h0M332.4 165h0M332.4 173h0M316.6 175h0M328.4 179h0M332.4 179.6h0M320.4 188.4h0M316.6 191.6h0M316.6 192.6h0M312.7 194.8h0M312.7 196.1h0M320.4 197.3h0M325.5 196.8h0M328.7 199.4h0M332.5 196.7h0M336.3 198.4h0M316.6 207.5h0M312.7 209.4h0M321 211.3h0M312.7 217.8h0M336.3 217.7h0M336.3 221.7h0M324.7 224.7h0M312.7 227.3h0M325.5 228.7h0M328 231.1h0M316.6 236.9h0M316.6 238h0M328.7 243.3h0M316.6 245.9h0M340.1 244.4h0M336.3 247.2h0M340.1 247.5h0M312.7 252h0M317.2 258h0M321 259.9h0M308.8 264.7h0M312.7 266.9h0M325.5 268.2h0M332.5 268.2h0M344.6 282.2h0M368.8 277.4h0M372.7 275.5h0M375.8 275.5h0M384.8 274.6h0M389.2 275h0M395 277.4h0M398.5 276.2h0M402.3 274.6h0M409.9 276.8h0M404.2 278.5h0M402.3 281.9h0M402.3 283.5h0M405.8 282.7h0M405.8 286.5h0M409.3 288h0M407.4 289.9h0M400.4 289.5h0M369.8 285.2h0M366 287.4h0M363.8 288.3h0M378.7 292.8h0M365.4 292.8h0M388.3 293.1h0M387.6 295h0M387.6 296.7h0M397.2 292.1h0M402.3 292.1h0M408 295.9h0M347.5 286.5h0M347.5 289.3h0M347.5 291.8h0M347.5 294.4h0M347.5 296.9h0M347.5 299.5h0M352 291.2h0M352 293.7h0M352 296.3h0M352 298.8h0M355.8 293.7h0M355.8 296.3h0M355.8 298.8h0M359.6 294.4h0M359.6 298.2h0M359.6 300.7h0M363.8 296.9h0M363.8 299.5h0M367.9 298.8h0M377.5 299.5h0M385.7 300.1h0M375.6 39.4h0M375.6 54.6h0M379.4 58.4h0M402.4 60.4h0M386.4 70h0M401 75h0M386.4 79h0M390.4 81h0M399 84.6h0M384.4 86h0M383 88.4h0M384.4 90h0M392 90.4h0M398.4 90.4h0M379.4 91.4h0M380.6 93h0M402.4 93h0M390.6 94.8h0M398.3 96.6h0M372.2 97h0M374.1 97.6h0M375.4 99.2h0M374.1 100.8h0M382.4 98.3h0M380.5 99.5h0M379.2 101.2h0M386.2 100.8h0M388.7 102.1h0M392.5 97.9h0M394.5 97.9h0M382.4 103.4h0M385.5 104.3h0M382.4 105.9h0M394.5 105h0M398.3 105.9h0M390.4 106.8h0M379.8 109.3h0M376 110.4h0M373.5 111h0M389.1 110.4h0M390.4 113.2h0M371.3 116.3h0M379.8 117h0M382.4 114.8h0M382.4 117h0M383 119h0M401.5 118.3h0M404.4 120.3h0M376 121.2h0M377.9 123.1h0M376 124.4h0M384.5 124.1h0M385.3 129.5h0M386.2 131.4h0M379.8 133.9h0M377.9 135.2h0M395.1 132.6h0M398.9 134.5h0M404 131.4h0M377.7 136.4h0M386.6 138.5h0M396.4 136.6h0M394.2 141.3h0M395.1 145.5h0M397.6 144.7h0M400.2 144.7h0M377.7 147.7h0M386.6 150h0M384.9 151.5h0M372.6 152.5h0M392.9 152.5h0M379.8 154.8h0M388.3 156.4h0M399.8 154.1h0M403.1 156h0M398.3 157.6h0M398.3 159.5h0M404 159.9h0M405.7 158.9h0M417.1 156.4h0M370 158.5h0M380.2 159.2h0M372.6 163.4h0M377.7 165h0M394.8 162.3h0M399.2 162.3h0M382.7 164.6h0M389.1 166.5h0M383.6 167.2h0M385.5 166.8h0M383.3 169.3h0M382.7 171.3h0M417.1 165h0M419.9 165.9h0M418.4 167.2h0M413.3 167.8h0M375.7 170h0M401.8 170.4h0M371.3 172.5h0M383.3 174.2h0M386.2 173.5h0M388.7 174.4h0M399.3 178.6h0M394.8 180.3h0M379.8 181.2h0M419.7 178.6h0M418.4 181.2h0M421.2 181.2h0M379.8 182.4h0M386.8 184.3h0M389.4 185.2h0M396 187.1h0M372.8 187.7h0M371.3 189.6h0M411.4 187.7h0M405.7 189.6h0M414.8 190.9h0M415.5 192.2h0M418.4 182.6h0M421.2 182.6h0M389.1 192.2h0M392.3 192.2h0M386.6 194.3h0M388.7 197.3h0M390.6 199.2h0M407.2 198.5h0M408.2 199.8h0M413.5 199.6h0M415.5 201.1h0M401.5 199.8h0M403.1 201.7h0M377.7 201.7h0M379.6 201.7h0M392.5 202.4h0M391 203.6h0M409.7 203h0M410.4 204.9h0M412.3 205.5h0M416.7 202.4h0M421.2 205.9h0M394.8 207.5h0M389.1 209.4h0M390.6 209h0M405.7 207.5h0M404 209h0M417.4 208.1h0M419.9 209.4h0M397.4 211.9h0M407.2 211.9h0M405.9 213.2h0M377.7 215.1h0M389.1 214.5h0M386.8 216.6h0M368.7 216.1h0M371.3 219.5h0M382.7 218.9h0M399.3 221.5h0M407.4 219.9h0M413.3 220.8h0M411 224.6h0M409.1 227.2h0M409.5 228.6h0M404.4 232.5h0M411.4 235h0M370 236.7h0M395.5 239.5h0M403.1 241.1h0M409.5 242.4h0M415.2 241.1h0M374.5 243.3h0M405.7 248.7h0M421.6 247.7h0M420.3 250.3h0M372.6 255.1h0M389.1 254.7h0M396.1 254.1h0M402.5 255.7h0M418.4 257.9h0M395.5 259.6h0M403.7 259.8h0M370 261.7h0M382.7 262.6h0M386.6 262.6h0M393.6 262.6h0M391 264.9h0M397.4 264.3h0M397.4 265.5h0M405.7 263.6h0M404.4 267.2h0M376.4 267.2h0M366.8 271.3h0M421.6 270.4h0M384.7 273.2h0M402.5 273.2h0M407.6 272.8h0M413.3 272.8h0M473 128.4h0M475.6 131h0M473 142h0M477.4 153.6h0M473 163h0M477.4 163h0M470.6 170.4h0M472.4 176.4h0M470.4 185h0M477.4 203h0M479.4 208.6h0M479.4 228.4h0M477.4 233.6h0M467.6 249.6h0M472.4 252.4h0M477.4 252.4h0M423 275h0M420 277h0M440.4 260h0M438.6 261h0M443.6 264.4h0M440.4 265h0M437.4 267h0M442.4 274.4h0M442.4 277h0M433 278.6h0M433 284h0M438.6 283h0M436 285h0M424 286h0M428 285.6h0M442.4 285.6h0M450 286h0M445 287h0M452 288h0M428 289h0M422 291h0M426 293h0M431 290h0M435 289h0M439 290h0M443 291h0M447 290h0M430 295h0M436 295h0M440 294h0M445 293h0M449 295h0M437 298h0M441 298h0M445 298h0M450 298h0M434 300h0M439 301h0M431 298h0M427 297h0M480.4 257.4h0M479.4 264.4h0M471.4 266.4h0M480.4 276.4h0M483 282.4h0M481 283.6h0M479 286h0M471.4 287.6h0M469 289h0M485 289h0M475 291h0M473 293h0M477 292.4h0M488 292.4h0M483 293h0M486.4 295h0M489 297h0M491 298h0M472 299h0M475 300h0M479 302.4h0M485 301h0M487 304h0M490 303h0M94 173h0M94 177h0M94 189.6h0M94 212.4h0M89.4 217.6h0M89.4 235h0M89.4 248.6h0M85.4 259.6h0M89.4 263h0M94.4 264.6h0M94.1 304.6h0M88.6 305.7h0M84.9 306.3h0M86.6 306h0M89.4 305.1h0M86.7 304.5h0M83.5 306.5h0M85.7 306h0M82.5 305.8h0M86.3 305.6h0M85.3 304.5h0M85.5 304.9h0M82.7 306.2h0M85.1 305.3h0M94.6 306.3h0M94.2 306.5h0M82.8 305h0M81.2 306.1h0M90.9 305.2h0M87.1 306h0M91.4 304.9h0M93.7 305.2h0M90.4 304.8h0M82.6 306.7h0M92 306.2h0M81.4 304.4h0M83.3 304.8h0M104.5 305.3h0M97.1 305.1h0M113.9 304.8h0M119.5 305.8h0M116.1 305h0M108.2 306.1h0M105.8 304.3h0M119.4 306.4h0M104 304.4h0M119.9 305.9h0M97.3 305h0M99.1 306.4h0M101.9 306.8h0M117 304.5h0M115.5 305.4h0M116.9 306.5h0M103.9 304.5h0M122.5 305.4h0M122 306.2h0M116.7 306.5h0M125.3 305.5h0M124.1 306.1h0M124.9 305.6h0M234.6 304.6h0M215.1 304.4h0M208.2 306.5h0M156.6 305.8h0M239.4 306h0M189.6 305h0M132.9 305.3h0M174.2 304.8h0M162.3 304.7h0M208.7 306.1h0M153.8 305h0M186.3 305.5h0M235.5 305.2h0M161 306.7h0M142.6 305.8h0M165 306.5h0M190.1 306.4h0M145.8 306.1h0M196 305.5h0M215.6 306.5h0M139.4 305.1h0M168.2 304.9h0M133.1 305.1h0M149.1 306.2h0M178.4 304.6h0M164 305.6h0M168.5 304.8h0M134.4 304.3h0M242.1 306.3h0M135.8 306.2h0M240.7 305.8h0M138.7 305.6h0M176.8 304.8h0M189.5 304.3h0M233.6 306h0M199.4 306.8h0M202.4 305h0M154.8 304.7h0M129.2 306.4h0M224.2 305.1h0M147.7 306h0M224.9 306.8h0M145.7 306.4h0M223.2 306.3h0M164.2 304.8h0M222.6 305.2h0M169.1 305.8h0M169.2 306.5h0M154 304.4h0M192.3 306h0M221.9 306.2h0M231.9 306.9h0M183.8 305.6h0M144.4 305.1h0M194 304.5h0M206.5 304.7h0M177.9 306.9h0M136.5 304.4h0M177.4 304.8h0M210.6 304.3h0M224.4 306.6h0M218.1 305.4h0M159.1 306.1h0M186.2 305.4h0M165.6 305.5h0M203.9 306.5h0M231.8 304.7h0M160.6 305.5h0M191.9 305.2h0M148.9 304.5h0M163.9 305.5h0M239.6 306.8h0M227.3 306.9h0M238.5 306h0M220.9 304.5h0M205.1 305.9h0M160.8 305.8h0M237.5 305.6h0M201.7 305.1h0M166.2 306.7h0M129.3 304.8h0M205.4 305.5h0M136 306.1h0M169.5 305.9h0M174.7 305.7h0M192.1 305.4h0M139.4 304.8h0M230.1 305.8h0M139.1 306.6h0M155.7 304.6h0M188.1 305h0M183.2 305.8h0M152.5 305.8h0M139.2 305.7h0M194.8 304.5h0M173.7 304.5h0M177.4 306.6h0M190.4 306.2h0M214.6 304.6h0M241.9 306.2h0M137.9 306.5h0M171.9 304.8h0M238.3 305.8h0M216.7 304.7h0M216.8 304.5h0M153.7 305.3h0M127.8 305.9h0M150.9 305.1h0M208.8 305.5h0M230 306h0M228 305.8h0M233.3 306.7h0M145.7 306.3h0M165.9 306.4h0M205.6 306.5h0M140.4 305.3h0M212.3 306.9h0M210.4 304.4h0M196.6 304.6h0M190.2 306.5h0M139.2 306.8h0M205 305h0M148.6 305.5h0M224.1 305.9h0M139.3 304.4h0M138.9 306.5h0M147.7 305.8h0M159.9 306.2h0M170.6 304.7h0M228.4 305.8h0M206.7 306.5h0M237 304.3h0M166.1 304.7h0M184.7 306.7h0M219.7 304.4h0M147.3 306.5h0M205.5 305.4h0M181.7 304.7h0M224.9 305.4h0M228.1 305.9h0M134.9 305.2h0M151.3 306.7h0M194.9 304.4h0M145.9 305.3h0M180.7 305.9h0M171.4 305.3h0M126.7 305.9h0M165.1 304.4h0M179.8 307h0M131.3 304.7h0M204.5 305h0M158 305.7h0M156.7 305.8h0M187.8 306.9h0M242.1 304.4h0M191.6 306.4h0M228.1 306.4h0M200.1 306h0M168.5 305.1h0M219.1 306.7h0M235.8 306.1h0M161.6 306.4h0M212.5 305.7h0M200.3 305.2h0M190.4 305.4h0M133.1 305.2h0M163.8 307h0M182.3 305.3h0M154.5 304.9h0M166.9 304.7h0M126.8 306.7h0M179 305.5h0M192.5 305.1h0M145.8 304.5h0M161.3 305.1h0M211 305.8h0M235.7 305.2h0M233.8 305.9h0M135.4 304.8h0M193.9 307h0M167.8 306.4h0M176.1 306.6h0M133.9 305.6h0M231.2 305h0M156.1 304.4h0M145.3 305h0M208.4 304.9h0M172.8 304.8h0M196.5 306.6h0M201.8 304.8h0M211.9 306.9h0M196.3 304.5h0M220.7 306.7h0M165.9 304.7h0M148 305.7h0M228.4 306h0M234 304.9h0M164.2 306.3h0M201.9 305.4h0M205.4 305.2h0M132.7 305.4h0M131.3 306h0M165.1 305.6h0M195.9 305h0M180.2 304.3h0M234.3 305.8h0M241.5 304.5h0M197.8 306.3h0M164.5 304.6h0M144.3 304.7h0M215.8 304.5h0M221.2 305.4h0M189 305.9h0M190.9 306.1h0M196.4 305.2h0M212.7 305h0M209.2 306.4h0M216.8 305.1h0M216.4 306.9h0M179 305.1h0M187.2 306.8h0M141.4 304.3h0M181.7 306.1h0M216.6 305.3h0M241.8 304.9h0M214.5 304.5h0M129.3 304.7h0M133 305.7h0M191 304.8h0M236 305.3h0M143.5 304.8h0M212.3 306.8h0M145 304.4h0M217 305h0M240.9 305.6h0M200.4 305.2h0M219.7 305.5h0M163.9 306.7h0M138.6 306.3h0M133.7 306h0M173 306.6h0M133 305.8h0M174 306.8h0M236.6 306h0M152.2 305h0M156.7 305.5h0M153.1 304.8h0M214.8 306h0M160.9 307h0M151.3 305.8h0M144.3 306.6h0M227.7 305h0M213.9 306.5h0M159.1 305.2h0M182.8 306.7h0M144.9 306.1h0M195.9 305.5h0M193.8 306.7h0M150.5 306.7h0M168.2 306.4h0M227 304.8h0M227.1 307h0M160.8 304.4h0M139.1 306.9h0M127.1 306.8h0M143.6 306.3h0M137.4 304.8h0M205.9 304.5h0M165.7 306.8h0M209.8 306.7h0M240.6 304.4h0M153.4 306.4h0M206.7 304.4h0M185.1 304.9h0M176.4 304.6h0M128.3 307h0M163 306.7h0M140.1 305.6h0M141.9 305.5h0M146.9 306.2h0M143.3 306.3h0M184.6 304.6h0M167.4 305.6h0M233.5 305.2h0M151.2 306.9h0M229.3 306.3h0M157.9 304.8h0M157 304.5h0M131.1 305.7h0M173.8 305.8h0M168.4 304.3h0M206.5 306.1h0M189.6 305.8h0M206.8 307h0M228.3 306.2h0M172.7 305.2h0M175 306.9h0M171.3 305.3h0M174 304.7h0M242.8 304.3h0M197.1 306.8h0M155.8 305.9h0M170.1 305h0M149.2 304.6h0M224.6 306.4h0M232.3 304.4h0M207.2 305.2h0M201.6 305.8h0M162.9 306.9h0M126.1 306.3h0M225.9 305.7h0M195.3 307h0M153.4 306h0M213 305.3h0M209.3 305.4h0M187.6 306h0M205.2 305.2h0M199.6 305.8h0M152.1 306h0M157 306.8h0M181.4 306.2h0M187.1 305.6h0M151.9 304.7h0M234.5 305.7h0M187.3 305.7h0M221.2 304.9h0M146.2 306.5h0M179.9 306h0M222.8 306.7h0M227.5 304.4h0M170.6 306.5h0M221.7 304.6h0M144 305h0M138 305.3h0M220 305.7h0M179 304.5h0M172.3 307h0M207.3 305.5h0M182 306.5h0M214.8 304.7h0M205.6 305.3h0M186.9 304.9h0M169.4 305.2h0M170.6 304.3h0M149.5 305.8h0M132.8 304.8h0M210 305h0M163.9 305h0M223.6 304.5h0M200.4 306.6h0M149.6 305.4h0M218.7 306h0M169.5 304.4h0M177.8 305.3h0M209.4 305.1h0M173.7 306.1h0M220.9 305.3h0M171.1 305.9h0M234.2 304.8h0M239.7 306.2h0M169.6 306.1h0M164.5 304.5h0M214.5 305.3h0M187.5 305.6h0M231.5 306.3h0M129 305.9h0M180.1 305.5h0M224.2 305.4h0M181.4 306.7h0M177.5 305.6h0M185.9 306.5h0M204.4 306.3h0M173 304.4h0M205.5 305.8h0M216 306.4h0M139.8 304.9h0M135 306.5h0M137.9 304.5h0M214.1 305.8h0M132.4 306.1h0M270.7 305.6h0M245.1 306.2h0M259.3 305.9h0M281.9 306.5h0M277 304.7h0M256 305.7h0M243.2 307h0M253.7 305h0M255.2 305h0M276.5 305.8h0M262.9 305.4h0M245 305.1h0M276.8 306.5h0M276.4 305h0M250.9 304.4h0M263.9 305.3h0M261.1 305.6h0M265.8 305.3h0M274.3 304.8h0M278.9 305.8h0M245 305.1h0M263.8 305.4h0M265 305.2h0M253.7 306.4h0M254.4 306.2h0M274.3 305.9h0M260.7 306.8h0M260.4 306.7h0M245.3 305.5h0M267.9 304.4h0M276.6 304.5h0M266.3 304.8h0M279 305.8h0M274.2 305.6h0M269.3 306.1h0M254.5 304.9h0M275.7 304.7h0M278.8 304.9h0M246.9 304.6h0M273.6 306.9h0M259.2 306.1h0M253 306.7h0M269.8 304.7h0M245.2 306.2h0M244.6 306.6h0M254.5 304.9h0M265.7 305.2h0M264.9 304.7h0M278.6 305.2h0M275.8 304.7h0M274.2 306.9h0M258.3 304.4h0M257.8 306h0M251.7 305.8h0M246.7 305.6h0M271.4 305.5h0M269.5 304.6h0M275.3 304.6h0M279 307h0M279.6 305.7h0M254.3 305.2h0M272.3 305.6h0M279.3 304.6h0M261.9 306.6h0M266.3 305.8h0M246.4 304.7h0M253.6 306.7h0M276 304.9h0M279.1 304.4h0M266.4 306.9h0M256.4 306.8h0M268.6 304.4h0M256 305.5h0M252.6 306.3h0M250 306.4h0M254.6 304.5h0M264.8 304.6h0M264.5 306.4h0M266.2 305.5h0M244.3 305.7h0M246.8 306h0M248.1 305.9h0M256.8 305.3h0M268.9 304.7h0M249.6 306.8h0M255.9 306.6h0M277.1 305.6h0M248.8 304.6h0M277.3 304.6h0M262.3 305.7h0M247.6 305.6h0M249.4 305.7h0M262.8 305.3h0M250.7 305.4h0M250.9 304.6h0M252.4 306.7h0M262.6 306.7h0M243.6 306.8h0M262 306.4h0M265.2 306.2h0M251.9 306.3h0M249 305h0M244.2 305.4h0M263.2 305.1h0M277.7 304.5h0M265.6 304.9h0M266.2 306.4h0M270.7 304.5h0M252.6 305.9h0M281.3 304.4h0M267.1 306.2h0M274.8 305.2h0M274.6 305.5h0M278.9 304.3h0M279.7 305.4h0M258.9 304.5h0M252.5 306.3h0M269.5 304.7h0M256.4 304.7h0M250.7 304.9h0M255.9 306.9h0M304.9 306.4h0M293 305.6h0M336.2 306.7h0M335.1 306h0M313 305.9h0M338.8 306.3h0M308.7 306.2h0M319 304.7h0M362.4 305.7h0M358.4 304.5h0M359.9 306.4h0M371.1 305.4h0M370.5 305.5h0M368.3 304.9h0M370.4 305.5h0M370.8 304.7h0M371.6 305.1h0M371.5 304.4h0M371.7 305.5h0M365.3 305.5h0M365.1 304.5h0M379.3 304.6h0M379.9 305.7h0M383 305.3h0M378.3 305.5h0M384.7 305.3h0M387.1 305.5h0M378.5 304.3h0M382.4 305.5h0M377.4 305.2h0M385.4 305.5h0M372.1 305h0M372.3 304.4h0M385 304.9h0M381.7 304.9h0M377.4 304.5h0M377.7 305.6h0M381.9 304.7h0M373.4 304.6h0M383.2 304.9h0M382.6 305.5h0M373.9 305.3h0M372.7 305.5h0M374.9 304.6h0M387.3 304.8h0M375.6 305.6h0M381.8 305.6h0M378.3 305h0M403.3 305.1h0M403.8 304.5h0M401.3 304.5h0M396.4 304.2h0M390.8 305.9h0M395.3 305.7h0M392 304.8h0M389.6 305.2h0M401.8 305.1h0M394 305.9h0M402.3 305.4h0M389.2 305.3h0M395.1 305.9h0M393.8 305.4h0M398.1 304.9h0M396.4 305.4h0M402.5 305.1h0M393.8 306h0M388.9 305.7h0M398.9 305.2h0M395.2 305.6h0M402.3 305.5h0M400 304.3h0M393.2 304.4h0M403.2 305.8h0M390.3 305.3h0M397.2 304.3h0M394.3 305.5h0M398.3 304.7h0M400.2 304.7h0M396.7 305h0M403.7 305.4h0M400.9 305.4h0M394.1 305.9h0M399.4 305.4h0M392.4 304.5h0M397.2 305.7h0M400.7 304.8h0M390.2 305.1h0M402 304.5h0M399.8 304.5h0M407.4 304.3h0M407.3 304.8h0M414.6 305.7h0M406.1 304.7h0M414.4 304.5h0M407.5 304.9h0M405.2 304.6h0M408.3 304.8h0M414.6 304.6h0M406.2 305.7h0M409 305.5h0M411 305.4h0M407.5 304.4h0M412.3 305h0M410.1 305.3h0M412.3 304.6h0M408 305.7h0M437.2 305h0M441.5 305h0M447.4 304.4h0M449.7 305.8h0M429.9 306.7h0M426.2 304.9h0M417.9 305.7h0M446.7 306.1h0M432.3 306.4h0M419.7 305.1h0M442.1 306.8h0M441.6 306.1h0M447.5 305.3h0M454.5 306.2h0M429.4 305.3h0M448.8 305.2h0M422.8 306.6h0M437.3 305.7h0M443.1 306.6h0M420.6 305.2h0M417.8 305.4h0M436.1 306.5h0M443 305.8h0M432 305.8h0M426.5 306.5h0M448.1 306.5h0M421.3 306h0M446.7 305.6h0M452.7 306.6h0M446.2 306.4h0M442.3 306.6h0M420.5 306.1h0M444.6 305.9h0M426.6 304.5h0M440.3 306.4h0M426.5 304.9h0M424.4 304.5h0M443.4 306.8h0M448.7 305.2h0M444.4 304.5h0M450.2 305.1h0M415.1 305.9h0M420.8 305h0M417.5 305.5h0M438.3 306.4h0M416.7 306.5h0M419.6 304.9h0M441.4 305.2h0M428.9 305.8h0M424.2 306.4h0M423.8 306.5h0M449 305.7h0M416.3 306.3h0M416.2 305.6h0M432.8 304.5h0M441.5 306.2h0M439.6 305.3h0M436.5 305.8h0M424.5 306.6h0M456.8 306.4h0M455.4 305.2h0M456.4 304.5h0M435.1 304.6h0M434.1 306.1h0M444.8 305.5h0M429.4 304.8h0M431.9 305h0M423.2 306.2h0M436.7 305.4h0M423.3 306.1h0M423.3 305h0M438.5 306.1h0M455.9 306.2h0M454.8 306.7h0M445.3 306.2h0M417.6 304.8h0M415.5 306.5h0M445.3 305.9h0M426.1 305.2h0M421.9 305.9h0M456.6 305.1h0M416.9 304.8h0M429.9 306.6h0M448.8 305.5h0M419.3 304.6h0M421.5 306.3h0M434.8 306.9h0M453.3 306.4h0M435 306.4h0M420.4 304.6h0M438.7 305.6h0M423.8 305h0M415.9 306.7h0M444.8 306.8h0M456.2 305.4h0M445.8 305.3h0M449.1 306.5h0M420.6 304.3h0M424 305.8h0M430.9 304.3h0M449.9 306.3h0M434.5 304.4h0M452.3 305.7h0M418 305.1h0M441.2 306.6h0M435.4 306h0M423.6 304.9h0M453 305.3h0M419.4 305.8h0M420.3 304.8h0M434.2 305.8h0M441.7 306.1h0M433.5 304.5h0M445.4 304.4h0M434.8 305.3h0M443.3 306.2h0M425.1 306h0M444.1 305.5h0M421 306.7h0M440.2 304.5h0M425 306.9h0M424.6 305.3h0M448.1 306.4h0M441.6 306.2h0M416.6 304.5h0M456 306.4h0M416.6 304.4h0M425.1 306.7h0M424.2 306h0M454.1 306h0M453.6 305h0M470.6 303.6h0M480.9 303.8h0M484.5 304.7h0M471.2 304.9h0M470.8 304.4h0M469.8 304.9h0M483.1 305.1h0M468 305h0M477.5 304.9h0M488 306.3h0M488.5 306.9h0M485.9 304.5h0M488.2 305.2h0M487.5 304.3h0M489.2 304.4h0M489.6 306.9h0M487.8 304.7h0M488.8 305h0M487.6 304.7h0M144.6 301.6h0M132.7 297.6h0M139.9 303.6h0M142.1 297.7h0M133 299.7h0M140.5 298.2h0M137.5 304.4h0M140.6 296.3h0M127.4 297.9h0M139.2 301.9h0M135.9 300.9h0M133.7 302h0M138.3 304h0M139.9 303.2h0M143.3 303.5h0M139.6 296.7h0M138.9 303.6h0M134.2 303.8h0M129.4 304.2h0M134.4 302.7h0M130.8 299.7h0M132.6 299.9h0M127.8 300.8h0M144.6 302.3h0M177.6 301.8h0M174.3 304.4h0M171.3 295.5h0M153.7 297.5h0M145.7 294.8h0M176 303.6h0M156.5 301.9h0M172.1 303.3h0M172.8 299h0M148.7 302.6h0M156 300.2h0M157.8 299.1h0M178.8 293.7h0M163.6 300.5h0M163.8 303.8h0M159.3 303.6h0M169.1 304.1h0M148.1 294.5h0M155.1 303.5h0M145.5 295.3h0M170.1 304.4h0M151.2 297.8h0M169 301h0M171.1 301.7h0M153.7 295.2h0M146 301h0M152.3 295.3h0M178.8 300.4h0M165.7 300.6h0M165.9 301h0M155.6 291.8h0M147.3 290.6h0M157.7 293.4h0M149 298.5h0M178.9 300.9h0M154.6 301.9h0M151.2 292.6h0M155.6 297.4h0M169.1 297.9h0M170.5 292.5h0M177.6 296.5h0M174.1 291.1h0M174 294.8h0M174.9 302.3h0M168.5 295.5h0M145.3 294.2h0M176.7 293.6h0M168.1 299.7h0M168.1 294h0M150 292.5h0M179.4 297.1h0M167.8 299.5h0M152.8 291.9h0M145.5 302.9h0M149.6 304.1h0M157.7 301.4h0M149.8 302.1h0M153.8 296.8h0M163.3 292.8h0M153.7 302.2h0M155 297h0M171.8 294.7h0M151.8 294.6h0M158.4 296.8h0M167.4 298.3h0M175.4 291.5h0M168.2 302.7h0M153.2 291h0M160.3 292.9h0M161.1 301.2h0M148.3 292.9h0M161.8 293.9h0M188.1 299.9h0M184.1 295.6h0M192.6 300.2h0M212.8 301h0M182.5 297.7h0M206 301h0M210.5 304.2h0M210 296.2h0M213 300.7h0M188.4 297h0M210.3 297.5h0M182.9 298.1h0M212.3 300.1h0M205.6 295.7h0M195.9 298.7h0M187.2 301.9h0M192.6 296.4h0M214.4 300.3h0M186.3 294.4h0M202.9 300.6h0M180.9 300.2h0M205.9 300.8h0M188.2 300.5h0M201.2 301.8h0M185.1 303h0M213.1 302.5h0M210 299.2h0M211.6 297.2h0M187.9 301.3h0M211.6 295.8h0M187.6 295h0M195.4 296.7h0M186.7 302.6h0M200.4 304.1h0M194.1 302h0M180.4 304.1h0M188.2 300.3h0M197.9 304.1h0M197.2 304.4h0M201.7 297.6h0M209.2 297.4h0M215 300.1h0M187.9 304.2h0M191.3 299.6h0M192 301.9h0M180.8 299.3h0M185.7 303.2h0M180 301.4h0M189 300h0M199.7 302.3h0M184.8 297.9h0M184.2 304.2h0M185.2 296.6h0M198.3 301.2h0M211 295.4h0M188.2 297h0M200.5 300h0M194.3 303.7h0M203.2 303.4h0M213.5 298.2h0M213 299.6h0M181.8 303.9h0M214.6 293.7h0M219.2 297.8h0M236.2 303.4h0M222.5 300.4h0M233.2 302.9h0M228.3 300.2h0M214.9 297.3h0M228.5 300.9h0M232 303.7h0M236.1 296.6h0M213.9 303.7h0M226.3 296.5h0M229.3 297.4h0M217.9 298.7h0M225.1 301.8h0M213.8 302.3h0M227.6 299.8h0M228.8 302.8h0M212.2 299.8h0M228.9 302h0M228.2 296.5h0M236 302.7h0M217.8 299.4h0M235.9 296.8h0M222.2 304.2h0M234.5 297.1h0M230.4 298.6h0M228.6 302.6h0M215.2 297h0M217.4 297.6h0M212.9 295.8h0M222.2 299.3h0M213.9 300.9h0M235.6 300.8h0M220.9 302h0M222.9 296.4h0M224 293.7h0M228.9 296.2h0M221.2 304.2h0M231.2 303.1h0M228.1 301.4h0M229.6 304.2h0M216.9 302.5h0M219.5 297.4h0M232.5 301.1h0M233.2 303.5h0M226.7 296.7h0M212.4 300.4h0M260.9 291.7h0M239.3 283.5h0M242.7 299.7h0M237.1 290.7h0M245.7 299.9h0M269.6 284.4h0M240.8 303.5h0M269 288.7h0M248.1 296.6h0M247.6 294.7h0M252.8 291.3h0M238.8 286.8h0M242.4 287h0M257.6 299.7h0M245.7 301.3h0M261 293.1h0M253.2 289.7h0M267.7 297.3h0M238.7 288.8h0M259.9 294h0M260.7 290.7h0M263.3 301.4h0M240.1 297.8h0M243.3 299.9h0M263.5 301.3h0M244.6 287.1h0M258.9 297.4h0M241.6 289.8h0M256.2 287.5h0M257.9 290.9h0M245.5 294.8h0M254.6 300.2h0M238 300.2h0M244.3 292.1h0M258.1 299.6h0M257.3 303h0M243.8 292.5h0M258.9 291.4h0M242.2 290.6h0M262.5 301.8h0M260.6 303.9h0M263.2 292.5h0M247.4 300.1h0M238.8 298.2h0M239.9 285.6h0M254 288.7h0M267.7 302.6h0M252.2 289.9h0M240.9 296.4h0M254.2 293.6h0M260.6 296.8h0M262.6 287.5h0M239.3 294.1h0M253 291.2h0M259.1 290.5h0M247.5 295.8h0M260.5 300.9h0M249.3 295.2h0M267.6 303.5h0M257.4 287.4h0M252 298.7h0M246.2 285.2h0M269.4 303.1h0M241.3 295.6h0M257.4 292.3h0M239.3 300.6h0M262.4 295.1h0M239.8 294.2h0M240.1 303.9h0M238.7 292h0M262.3 288.3h0M240.5 286.4h0M242.4 296.8h0M264.5 289.2h0M242.7 300.8h0M251.1 293.1h0M241.1 291h0M269.1 287.8h0M271.4 301.8h0M279.6 303.5h0M274.1 304.1h0M275.9 296.6h0M274 301.6h0M277.5 294.4h0M270.5 304.1h0M269.4 302.6h0M272.4 296.1h0M271.3 298.8h0M280.9 294.7h0M279.1 297h0M270.2 301.9h0M272.4 295.3h0M332.9 302h0M355.2 299h0M312.5 301.3h0M342.3 302.9h0M359.6 295.7h0M354.4 301.9h0M325.3 296.3h0M330.7 296.1h0M330.9 292.4h0M323.4 303h0M332.5 299.7h0M356.4 301.2h0M324.2 303.1h0M352.2 303.9h0M348.4 301.2h0M352.7 294.7h0M344.8 296.5h0M354 292.8h0M339 295.9h0M353 296h0M354.2 302.3h0M355.9 292.9h0M358.9 301.1h0M345.8 299.9h0M314.4 302.5h0M339.4 297.5h0M393.4 302.6h0M400.5 303.4h0M391.4 298.4h0M392 295.7h0M393.2 294.6h0M400.7 297.2h0M389.1 295.2h0M399.9 296.9h0M395.4 299.1h0M400.8 304.1h0M393 301.3h0M402.3 299.7h0M402.4 302.2h0M393 303.4h0M397.2 295.7h0M397.4 303h0M396.3 299.9h0M394.7 303.5h0M398.6 297h0M393.8 298.7h0M403.3 301.9h0M390 303.8h0M388.6 300.9h0M394.9 302.1h0M394.9 295.6h0M396.4 303h0M400.6 298.6h0M391.6 302.3h0M400.8 297.1h0M402.1 304.4h0M394.9 298.8h0M399.4 303.9h0M391.2 298h0M393.3 302.2h0M391 300.5h0M396 301.6h0M374.3 304.3h0M388 302.8h0M384.7 301.2h0M386.6 302.8h0M384.2 304h0M377.8 304.2h0M375.3 300.2h0M380 304.1h0M413.9 304.3h0M409.6 304.1h0M410.2 299.4h0M410.9 303.5h0M408.7 302.3h0M406.9 300.3h0M408.6 301.8h0M409.2 299h0M404.1 300.7h0M411.9 303.2h0M426.1 298.7h0M435.6 297.8h0M438.5 303.9h0M424.9 301.5h0M442.5 302.8h0M442.2 302.5h0M427.3 303.4h0M449.5 296.2h0M450.1 300.4h0M420.9 296.5h0M445.1 302.2h0M422.8 300.5h0M439.7 304.5h0M429.4 302.9h0M426.3 298.1h0M423.5 300.1h0M439 299.1h0M423.5 298.3h0M420.9 298h0M428.7 300.9h0M424.2 300.7h0M433 304.3h0M434.5 304.1h0M434 298.1h0M438.1 297.5h0M423.8 296.5h0M441.8 304.3h0M431.7 299.6h0M432.5 299.6h0M441.5 299.9h0M423.2 303.6h0M437.5 295.3h0M446.9 302.6h0M430.1 301.9h0M449.3 300h0M432.7 299.1h0M438.2 295.5h0M443.8 299.3h0M425.5 291.2h0M447.4 297.3h0M439.3 295.7h0M431.5 299.3h0M438 291.7h0M426.7 286.8h0M448.8 297.4h0M421.8 290.5h0M435.9 293.1h0M432.3 298.6h0M431.8 293.7h0M449.8 295.2h0M435.8 290.6h0M433 294.8h0M445.4 289.5h0M432.5 291.5h0M476.3 304.1h0M480.4 300.6h0M475.6 303.7h0M471.7 303h0M468.5 300.1h0M469.4 303.6h0M471.4 300.3h0M469.3 300.6h0M484.9 303.2h0M488.9 304.3h0M480.7 304.1h0M470.1 304.2h0M478 300.1h0M485.2 303.8h0M476.9 299.2h0M488.1 303.3h0M482.1 301.7h0M469.8 289.4h0M471.7 288.7h0M484.6 297.7h0M471.5 291.3h0M473 297.4h0M483.8 301.7h0M476.9 301.8h0M478.6 294.6h0M474.6 292.4h0M476.7 297.3h0M488.9 301.7h0M488.3 298.9h0M472.8 295.1h0M477.7 300.2h0M470.1 301.2h0M485.7 298.5h0M470.1 301.2h0M478.3 300h0M481.4 300.5h0M478.2 302.6h0M489.1 302.4h0M482.3 296.5h0M477.5 296.1h0" stroke="#e50019" stroke-width="3.2" stroke-linecap="round" fill="none"/><path d="M60 304.6H512" stroke="#fa2830" stroke-width="1"/><rect x="38.0" y="20.9" width="497.1" height="301.35" fill="none" stroke="#757575" stroke-width="1.4"/><rect x="424.6" y="27.6" width="104.4" height="57.7" rx="2.5" fill="#fff" fill-opacity="0.8" stroke="#e2e2e2" stroke-width="0.9"/><circle cx="441.2" cy="37.5" r="1.6" fill="#0a8ad8"/><circle cx="441.2" cy="55.9" r="1.6" fill="#e50019"/><path d="M428.8 73.8H452.7" stroke="#fa2830" stroke-width="1"/><g font-family="'DejaVu Sans','Liberation Sans',sans-serif" fill="#333" stroke="#333" stroke-width="0.18"><g font-size="12.1"><text x="463.8" y="42.3">Normal</text><text x="463.8" y="60.2">Fraud</text><text x="463.8" y="78.3">Threshold</text></g><g font-size="12" text-anchor="middle"><text x="80.8" y="338.3">0</text><text x="144.6" y="338.3">1000</text><text x="208.4" y="338.3">2000</text><text x="272.2" y="338.3">3000</text><text x="336.0" y="338.3">4000</text><text x="399.8" y="338.3">5000</text><text x="463.6" y="338.3">6000</text><text x="527.4" y="338.3">7000</text></g><g font-size="12.1" text-anchor="end"><text x="32" y="314.1">0</text><text x="32" y="267.9">1</text><text x="32" y="221.7">2</text><text x="32" y="175.5">3</text><text x="32" y="129.3">4</text><text x="32" y="83.1">5</text><text x="32" y="36.9">6</text></g><text x="285.7" y="17.5" font-size="13.3" text-anchor="middle">Reconstruction error for different classes</text><text x="286.1" y="354.3" font-size="13.3" text-anchor="middle">Data point index</text><text transform="translate(17.7 173) rotate(-90)" font-size="13.3" text-anchor="middle">Reconstruction error</text></g></svg></body></html>
